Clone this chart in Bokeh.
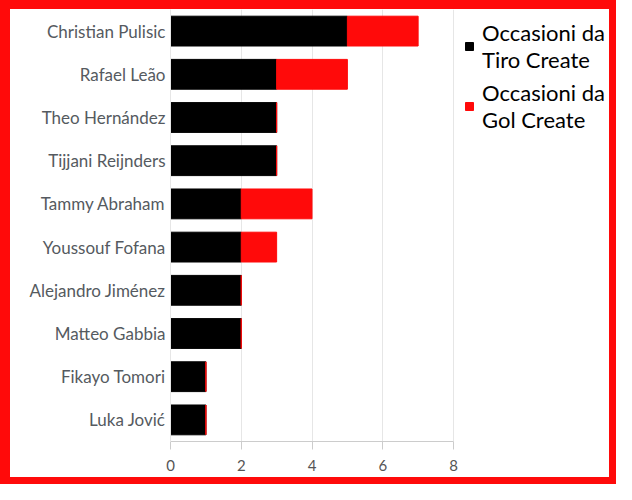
from bokeh.plotting import figure
from bokeh.layouts import column
from bokeh.models import ColumnDataSource, FactorRange, Range1d, Legend, LegendItem, FixedTicker
from bokeh.embed import file_html
from bokeh.resources import INLINE

players = ["Christian Pulisic", "Rafael Leão", "Theo Hernández", "Tijjani Reijnders",
           "Tammy Abraham", "Youssouf Fofana", "Alejandro Jiménez", "Matteo Gabbia",
           "Fikayo Tomori", "Luka Jović"]
tiro = [5, 3, 3, 3, 2, 2, 2, 2, 1, 1]
gol = [2, 2, 0, 0, 2, 1, 0, 0, 0, 0]
series = ["tiro", "gol"]
series_labels = ["Occasioni da\nTiro Create", "Occasioni da\nGol Create"]
colors = ["#000000", "#ff0a0a"]
x_ticks = [0, 2, 4, 6, 8]
x_max = 8

# layout (pixels)
RING_L, RING_T, RING_R, RING_B = 10, 9, 7, 7
W, H = 616 - RING_L - RING_R, 484 - RING_T - RING_B
LEFT, RIGHT, TOP, BOTTOM = 160, 3, 0, 36
AXIS_END_PX = 443          # pixel where x = 8 falls
frame_w = W - LEFT - RIGHT
x_end = x_max * frame_w / (AXIS_END_PX - LEFT)

source = ColumnDataSource(data=dict(player=players, tiro=tiro, gol=gol))

p = figure(width=W, height=H, output_backend="svg", toolbar_location=None,
           y_range=FactorRange(factors=list(reversed(players))),
           x_range=Range1d(0, x_end),
           min_border_left=LEFT, min_border_top=TOP, min_border_bottom=BOTTOM,
           min_border_right=RIGHT)
p.border_fill_color = "white"
p.background_fill_color = "white"
p.styles = {"background-color": "white"}

rs = p.hbar_stack(series, y="player", height=0.69, color=colors, source=source,
                  line_color=colors, line_width=1)

p.outline_line_color = None
p.ygrid.grid_line_color = None
p.xgrid.grid_line_color = "#e6e6e6"
p.xaxis.ticker = FixedTicker(ticks=x_ticks)
p.xaxis.bounds = (0, x_max)
p.xaxis.axis_line_color = "#cccccc"
p.xaxis.major_tick_line_color = "#cccccc"
p.xaxis.major_tick_out = 8
p.xaxis.major_tick_in = 0
p.xaxis.minor_tick_line_color = None
p.xaxis.major_label_text_font = "Lato"
p.xaxis.major_label_text_font_size = "15px"
p.xaxis.major_label_text_color = "#555555"
p.xaxis.major_label_standoff = 10

p.yaxis.axis_line_color = "#e6e6e6"
p.yaxis.major_tick_line_color = None
p.yaxis.major_tick_out = 0
p.yaxis.major_tick_in = 0
p.yaxis.minor_tick_line_color = None
p.yaxis.major_label_text_font = "Lato"
p.yaxis.major_label_text_font_size = "17px"
p.yaxis.major_label_text_color = "#555a60"
p.yaxis.major_label_standoff = 5

legend = Legend(items=[LegendItem(label=series_labels[i], renderers=[rs[i]]) for i in range(2)],
                location=(AXIS_END_PX + 11 - LEFT, 308))
legend.margin = 0
legend.padding = 0
legend.border_line_color = None
legend.background_fill_alpha = 0
legend.glyph_width = 10
legend.glyph_height = 10
legend.label_standoff = 8
legend.spacing = 6
legend.label_text_font = "Lato"
legend.label_text_font_size = "22px"
legend.label_text_color = "#000000"
p.add_layout(legend)

layout = column(p, styles={"background-color": "#ff0a0a",
                           "padding": f"{RING_T}px {RING_R}px {RING_B}px {RING_L}px"})

open("out.html", "w").write(file_html(layout, INLINE))
